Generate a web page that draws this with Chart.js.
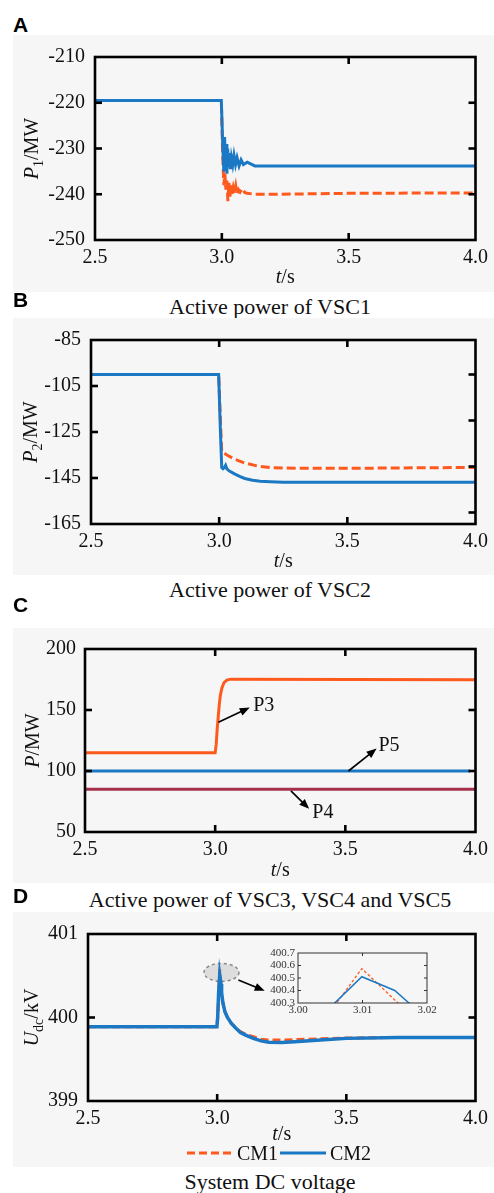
<!DOCTYPE html>
<html>
<head>
<meta charset="utf-8">
<script src="https://cdn.jsdelivr.net/npm/chart.js@4.4.1/dist/chart.umd.min.js"></script>
<style>
  body { margin: 0; background: #fff; width: 494px; height: 1193px; position: relative; overflow: hidden; }
  canvas { position: absolute; }
  .bg { background: #f6f6f6; }
  .letter { position: absolute; left: 13px; font: bold 21px/21px 'Liberation Sans', Arial, sans-serif; color: #000; }
  .title { position: absolute; left: 70px; width: 400px; text-align: center; font: 22px/22px 'Liberation Serif', serif; color: #111; white-space: nowrap; }
</style>
</head>
<body>
<div class="letter" style="top:14px">A</div>
<canvas id="chart-a" class="bg" width="481" height="257" style="left:13px;top:35px"></canvas>
<div class="title" style="top:296px">Active power of VSC1</div>

<div class="letter" style="top:289px">B</div>
<canvas id="chart-b" class="bg" width="481" height="257" style="left:13px;top:318px"></canvas>
<div class="title" style="top:579px">Active power of VSC2</div>

<div class="letter" style="top:594px">C</div>
<canvas id="chart-c" class="bg" width="481" height="255" style="left:13px;top:628px"></canvas>
<div class="title" style="top:889px">Active power of VSC3, VSC4 and VSC5</div>

<div class="letter" style="top:885px">D</div>
<canvas id="chart-d" class="bg" width="481" height="255" style="left:13px;top:912px"></canvas>
<canvas id="chart-inset" width="182" height="78" style="left:258px;top:943px"></canvas>
<div class="title" style="top:1171px">System DC voltage</div>

<script>
// time axis (s)
var timeTicks = [2.5, 3.0, 3.5, 4.0];

// A: active power of VSC1 (MW)
var vsc1TimeCM1 = [2.5, 2.998, 3.003, 3.008, 3.012, 3.016, 3.02, 3.024, 3.028, 3.032, 3.036, 3.04, 3.045, 3.05, 3.055, 3.06, 3.066, 3.072, 3.08, 3.09, 3.1, 3.13, 3.2, 3.5, 4.0];
var vsc1CM1 = [-219.5, -219.5, -231, -238, -235.5, -239, -237, -241.5, -237.5, -240.5, -238, -240, -238.5, -239.8, -238.2, -240, -239, -239.5, -238.8, -239.6, -239.8, -240, -240, -239.8, -239.7];
var vsc1TimeCM2 = [2.5, 2.998, 3.004, 3.008, 3.011, 3.014, 3.017, 3.02, 3.023, 3.026, 3.03, 3.034, 3.038, 3.043, 3.048, 3.054, 3.06, 3.068, 3.076, 3.085, 3.1, 3.13, 3.2, 4.0];
var vsc1CM2 = [-219.5, -219.5, -230, -235, -227.5, -234.5, -229, -235.5, -230, -234, -231, -234.5, -232, -233.5, -231.5, -233.5, -232, -233.8, -232.5, -233.5, -233, -233.8, -233.8, -233.8];
var vsc1Ticks = [-250, -240, -230, -220, -210];

// B: active power of VSC2 (MW)
var vsc2TimeCM1 = [2.5, 2.998, 3.005, 3.01, 3.03, 3.06, 3.1, 3.15, 3.2, 3.3, 3.5, 4.0];
var vsc2CM1 = [-100, -100, -120, -133.5, -135, -136.8, -138.5, -139.8, -140.5, -140.8, -140.8, -140.4];
var vsc2TimeCM2 = [2.5, 2.998, 3.005, 3.01, 3.015, 3.02, 3.025, 3.03, 3.04, 3.06, 3.08, 3.1, 3.13, 3.16, 3.2, 3.25, 3.3, 4.0];
var vsc2CM2 = [-100, -100, -125, -140.5, -141, -140.5, -139.5, -141, -142, -143.2, -144.3, -145.2, -146, -146.4, -146.6, -146.8, -146.8, -146.8];
var vsc2Ticks = [-165, -145, -125, -105, -85];

// C: active power of VSC3, VSC4, VSC5 (MW)
var vsc3Time = [2.5, 3.0, 3.004, 3.008, 3.012, 3.016, 3.02, 3.026, 3.034, 3.045, 3.06, 4.0];
var vsc3P3 = [115, 115, 122, 135, 145, 155, 162, 168, 172.5, 174.5, 175.3, 174.8];
var vsc4Time = [2.5, 4.0];
var vsc4P4 = [85, 85];
var vsc5Time = [2.5, 3.98];
var vsc5P5 = [100, 100];
var pTicks = [50, 100, 150, 200];

// D: system DC voltage (kV)
var udcTimeCM1 = [2.5, 2.999, 3.002, 3.006, 3.0099, 3.0155, 3.022, 3.03, 3.04, 3.055, 3.07, 3.09, 3.11, 3.14, 3.17, 3.2, 3.25, 3.3, 3.4, 3.5, 3.7, 4.0];
var udcCM1 = [399.89, 399.89, 400.0, 400.3, 400.575, 400.3, 400.17, 400.07, 400.0, 399.93, 399.88, 399.83, 399.8, 399.77, 399.74, 399.73, 399.73, 399.735, 399.745, 399.755, 399.76, 399.76];
var udcTimeCM2 = [2.5, 2.999, 3.002, 3.0057, 3.0099, 3.015, 3.0172, 3.022, 3.03, 3.04, 3.055, 3.07, 3.09, 3.11, 3.14, 3.17, 3.2, 3.25, 3.3, 3.4, 3.5, 3.7, 4.0];
var udcCM2 = [399.89, 399.89, 400.0, 400.3, 400.51, 400.40, 400.3, 400.18, 400.07, 400.0, 399.93, 399.88, 399.82, 399.79, 399.75, 399.72, 399.705, 399.70, 399.71, 399.73, 399.75, 399.76, 399.76];
var udcTicks = [399, 400, 401];
var insetTimeTicks = [3.00, 3.01, 3.02];
var insetTicks = [400.3, 400.4, 400.5, 400.6, 400.7];

var ORANGE = '#ff5a1e';
var BLUE = '#1a78c4';
var WINE = '#a5304b';

Chart.defaults.font.family = "'Liberation Serif', 'Times New Roman', serif";
Chart.defaults.font.size = 20;
Chart.defaults.color = '#111';

function series(ts, vs) {
    return ts.map(function(t, i) { return {x: t, y: vs[i]}; });
}

function line(ctx, x1, y1, x2, y2) {
    ctx.beginPath();
    ctx.moveTo(x1, y1);
    ctx.lineTo(x2, y2);
    ctx.stroke();
}

function arrow(ctx, x1, y1, x2, y2) {
    var ang = Math.atan2(y2 - y1, x2 - x1);
    ctx.save();
    ctx.strokeStyle = '#000';
    ctx.fillStyle = '#000';
    ctx.lineWidth = 1.6;
    line(ctx, x1, y1, x2 - 6 * Math.cos(ang), y2 - 6 * Math.sin(ang));
    ctx.beginPath();
    ctx.moveTo(x2, y2);
    ctx.lineTo(x2 - 10 * Math.cos(ang) + 4 * Math.sin(ang), y2 - 10 * Math.sin(ang) - 4 * Math.cos(ang));
    ctx.lineTo(x2 - 10 * Math.cos(ang) - 4 * Math.sin(ang), y2 - 10 * Math.sin(ang) + 4 * Math.cos(ang));
    ctx.closePath();
    ctx.fill();
    ctx.restore();
}

function segFont(s, size) {
    return (s.italic ? 'italic ' : '') + (s.sub ? Math.round(size * 0.68) : size) + "px 'Liberation Serif', serif";
}

// text with italic / subscript parts, x,y is the centre of the baseline
function richText(ctx, segs, x, y, angle, size) {
    ctx.save();
    ctx.translate(x, y);
    ctx.rotate(angle);
    ctx.fillStyle = '#111';
    ctx.textAlign = 'left';
    ctx.textBaseline = 'alphabetic';
    var w = 0;
    segs.forEach(function(s) { ctx.font = segFont(s, size); w += ctx.measureText(s.t).width; });
    var cx = -w / 2;
    segs.forEach(function(s) {
        ctx.font = segFont(s, size);
        ctx.fillText(s.t, cx, s.sub ? size * 0.25 : 0);
        cx += ctx.measureText(s.t).width;
    });
    ctx.restore();
}

// frame, inward ticks, axis titles
function decor(cfg) {
    return {
        id: 'decor',
        afterDatasetsDraw: function(chart) {
            var ctx = chart.ctx, a = chart.chartArea;
            var xs = chart.scales.x, ys = chart.scales.y;
            var tl = cfg.tick;
            ctx.save();
            ctx.strokeStyle = cfg.frameColor || '#000';
            ctx.lineWidth = cfg.frame;
            ctx.strokeRect(a.left, a.top, a.right - a.left, a.bottom - a.top);
            cfg.xIn.forEach(function(v) {
                var px = xs.getPixelForValue(v);
                line(ctx, px, a.bottom, px, a.bottom - tl);
                line(ctx, px, a.top, px, a.top + tl);
            });
            cfg.yLeft.forEach(function(v) {
                var py = ys.getPixelForValue(v);
                line(ctx, a.left, py, a.left + tl, py);
            });
            cfg.yRight.forEach(function(v) {
                var py = ys.getPixelForValue(v);
                line(ctx, a.right, py, a.right - tl, py);
            });
            ctx.restore();
            if (cfg.xTitle) richText(ctx, cfg.xTitle, (a.left + a.right) / 2, cfg.xTitleY, 0, 20);
            if (cfg.yTitle) richText(ctx, cfg.yTitle, cfg.yTitleX, (a.top + a.bottom) / 2, -Math.PI / 2, 20);
            if (cfg.extra) cfg.extra(chart);
        }
    };
}

function options(p) {
    return {
        responsive: false,
        animation: false,
        events: [],
        layout: { padding: { left: 0, top: p.padTop, right: p.padRight, bottom: 0 } },
        plugins: { legend: { display: false }, tooltip: { enabled: false } },
        elements: { point: { radius: 0 }, line: { tension: 0 } },
        scales: {
            x: {
                type: 'linear', min: p.xMin, max: p.xMax,
                grid: { display: false, drawTicks: false }, border: { display: false },
                afterFit: function(s) { s.height = p.xHeight; },
                afterBuildTicks: function(s) { s.ticks = p.xTicks.map(function(v) { return {value: v}; }); },
                ticks: {
                    padding: p.xPad, maxRotation: 0, autoSkip: false,
                    font: { size: p.fontSize }, color: p.tickColor || '#111',
                    callback: function(v) { return v.toFixed(p.xDec); }
                }
            },
            y: {
                min: p.yMin, max: p.yMax,
                grid: { display: false, drawTicks: false }, border: { display: false },
                afterFit: function(s) { s.width = p.yWidth; },
                afterBuildTicks: function(s) { s.ticks = p.yTicks.map(function(v) { return {value: v}; }); },
                ticks: {
                    padding: p.yPad, autoSkip: false,
                    font: { size: p.fontSize }, color: p.tickColor || '#111',
                    callback: function(v) { return v.toFixed(p.yDec); }
                }
            }
        }
    };
}

var tTitle = [{t: 't', italic: true}, {t: '/s'}];

// A
new Chart(document.getElementById('chart-a'), {
    type: 'line',
    data: {
        datasets: [
            { label: 'CM1', data: series(vsc1TimeCM1, vsc1CM1), borderColor: ORANGE, borderWidth: 3, borderDash: [9, 4], order: 2 },
            { label: 'CM2', data: series(vsc1TimeCM2, vsc1CM2), borderColor: BLUE, borderWidth: 3, order: 1 }
        ]
    },
    options: options({ xMin: 2.5, xMax: 4.0, xTicks: timeTicks, xDec: 1, yMin: -250, yMax: -210, yTicks: vsc1Ticks, yDec: 0,
        padTop: 17, padRight: 15, xHeight: 52, yWidth: 82, xPad: 6, yPad: 10, fontSize: 20 }),
    plugins: [decor({ frame: 2.6, tick: 7, xIn: [3.0, 3.5], yLeft: [-240, -230, -220], yRight: [-240, -230, -220],
        xTitle: tTitle, xTitleY: 248, yTitle: [{t: 'P', italic: true}, {t: '1', sub: true}, {t: '/MW'}], yTitleX: 25 })]
});

// B
new Chart(document.getElementById('chart-b'), {
    type: 'line',
    data: {
        datasets: [
            { label: 'CM1', data: series(vsc2TimeCM1, vsc2CM1), borderColor: ORANGE, borderWidth: 3, borderDash: [9, 4], order: 2 },
            { label: 'CM2', data: series(vsc2TimeCM2, vsc2CM2), borderColor: BLUE, borderWidth: 3, order: 1 }
        ]
    },
    options: options({ xMin: 2.5, xMax: 4.0, xTicks: timeTicks, xDec: 1, yMin: -165, yMax: -85, yTicks: vsc2Ticks, yDec: 0,
        padTop: 18, padRight: 15, xHeight: 51, yWidth: 78, xPad: 6, yPad: 10, fontSize: 20 }),
    plugins: [decor({ frame: 2.6, tick: 7, xIn: [3.0, 3.5], yLeft: [-145, -125, -105], yRight: [-160, -140, -120, -100],
        xTitle: tTitle, xTitleY: 249, yTitle: [{t: 'P', italic: true}, {t: '2', sub: true}, {t: '/MW'}], yTitleX: 24 })]
});

// C
new Chart(document.getElementById('chart-c'), {
    type: 'line',
    data: {
        datasets: [
            { label: 'P3', data: series(vsc3Time, vsc3P3), borderColor: ORANGE, borderWidth: 3 },
            { label: 'P4', data: series(vsc4Time, vsc4P4), borderColor: WINE, borderWidth: 3 },
            { label: 'P5', data: series(vsc5Time, vsc5P5), borderColor: BLUE, borderWidth: 3 }
        ]
    },
    options: options({ xMin: 2.5, xMax: 4.0, xTicks: timeTicks, xDec: 1, yMin: 50, yMax: 200, yTicks: pTicks, yDec: 0,
        padTop: 17, padRight: 14, xHeight: 51, yWidth: 72, xPad: 6, yPad: 9, fontSize: 20 }),
    plugins: [decor({ frame: 2.6, tick: 7, xIn: [3.0, 3.5], yLeft: [100, 150], yRight: [100, 150],
        xTitle: tTitle, xTitleY: 248, yTitle: [{t: 'P', italic: true}, {t: '/MW'}], yTitleX: 26,
        extra: function(chart) {
            var ctx = chart.ctx, xs = chart.scales.x, ys = chart.scales.y;
            var notes = [
                { name: 'P3', from: [3.0125, 140], to: [3.133, 152], at: [3.146, 153.5] },
                { name: 'P5', from: [3.512, 100], to: [3.62, 118.4], at: [3.627, 120.6] },
                { name: 'P4', from: [3.291, 83.7], to: [3.361, 69], at: [3.373, 66] }
            ];
            notes.forEach(function(n) {
                arrow(ctx, xs.getPixelForValue(n.from[0]), ys.getPixelForValue(n.from[1]),
                    xs.getPixelForValue(n.to[0]), ys.getPixelForValue(n.to[1]));
                ctx.save();
                ctx.font = "20px 'Liberation Serif', serif";
                ctx.fillStyle = '#111';
                ctx.textAlign = 'left';
                ctx.textBaseline = 'middle';
                ctx.fillText(n.name, xs.getPixelForValue(n.at[0]), ys.getPixelForValue(n.at[1]));
                ctx.restore();
            });
        } })]
});

// D
var dcCM1 = { label: 'CM1', data: series(udcTimeCM1, udcCM1), borderColor: ORANGE, borderWidth: 3, borderDash: [8, 4], order: 2 };
var dcCM2 = { label: 'CM2', data: series(udcTimeCM2, udcCM2), borderColor: BLUE, borderWidth: 3.5, order: 1 };
new Chart(document.getElementById('chart-d'), {
    type: 'line',
    data: { datasets: [dcCM1, dcCM2] },
    options: options({ xMin: 2.5, xMax: 4.0, xTicks: timeTicks, xDec: 1, yMin: 399, yMax: 401, yTicks: udcTicks, yDec: 0,
        padTop: 15, padRight: 14, xHeight: 66, yWidth: 75, xPad: 6, yPad: 10, fontSize: 20 }),
    plugins: [{
        id: 'spot',
        beforeDatasetsDraw: function(chart) {
            var ctx = chart.ctx, xs = chart.scales.x, ys = chart.scales.y;
            ctx.save();
            ctx.fillStyle = 'rgba(200,200,200,0.55)';
            ctx.strokeStyle = '#888';
            ctx.lineWidth = 1.5;
            ctx.setLineDash([3, 3]);
            ctx.beginPath();
            ctx.ellipse(xs.getPixelForValue(3.0166), ys.getPixelForValue(400.54), 17.5, 9, 0, 0, Math.PI * 2);
            ctx.fill();
            ctx.stroke();
            ctx.restore();
        }
    }, decor({ frame: 2.6, tick: 7, xIn: [3.0, 3.5], yLeft: [400], yRight: [400],
        xTitle: tTitle, xTitleY: 228, yTitle: [{t: 'U', italic: true}, {t: 'dc', sub: true}, {t: '/kV'}], yTitleX: 24.5,
        extra: function(chart) {
            var ctx = chart.ctx, xs = chart.scales.x, ys = chart.scales.y;
            arrow(ctx, xs.getPixelForValue(3.082), ys.getPixelForValue(400.45), xs.getPixelForValue(3.184), ys.getPixelForValue(400.32));
            // legend
            var items = [dcCM1, dcCM2];
            var lx = [174, 267];
            ctx.save();
            ctx.font = "20px 'Liberation Serif', serif";
            ctx.textBaseline = 'alphabetic';
            items.forEach(function(d, i) {
                ctx.strokeStyle = d.borderColor;
                ctx.lineWidth = 3;
                ctx.setLineDash(d.borderDash || []);
                line(ctx, lx[i], 241, lx[i] + 46, 241);
                ctx.setLineDash([]);
                ctx.fillStyle = '#111';
                ctx.fillText(d.label, lx[i] + 50, 248);
            });
            ctx.restore();
        } })]
});

// D inset: zoom on the voltage peak
new Chart(document.getElementById('chart-inset'), {
    type: 'line',
    data: {
        datasets: [
            { label: 'CM1', data: series(udcTimeCM1, udcCM1), borderColor: ORANGE, borderWidth: 1.3, borderDash: [3, 2], order: 2 },
            { label: 'CM2', data: series(udcTimeCM2, udcCM2), borderColor: BLUE, borderWidth: 1.5, order: 1 }
        ]
    },
    options: options({ xMin: 3.0, xMax: 3.02, xTicks: insetTimeTicks, xDec: 2, yMin: 400.3, yMax: 400.7, yTicks: insetTicks, yDec: 1,
        padTop: 10, padRight: 13, xHeight: 18, yWidth: 40, xPad: 1, yPad: 3, fontSize: 11, tickColor: '#333' }),
    plugins: [decor({ frame: 1, frameColor: '#333', tick: 3, xIn: [3.01], yLeft: [400.4, 400.5, 400.6], yRight: [400.4, 400.5, 400.6] })]
});
</script>
</body>
</html>
